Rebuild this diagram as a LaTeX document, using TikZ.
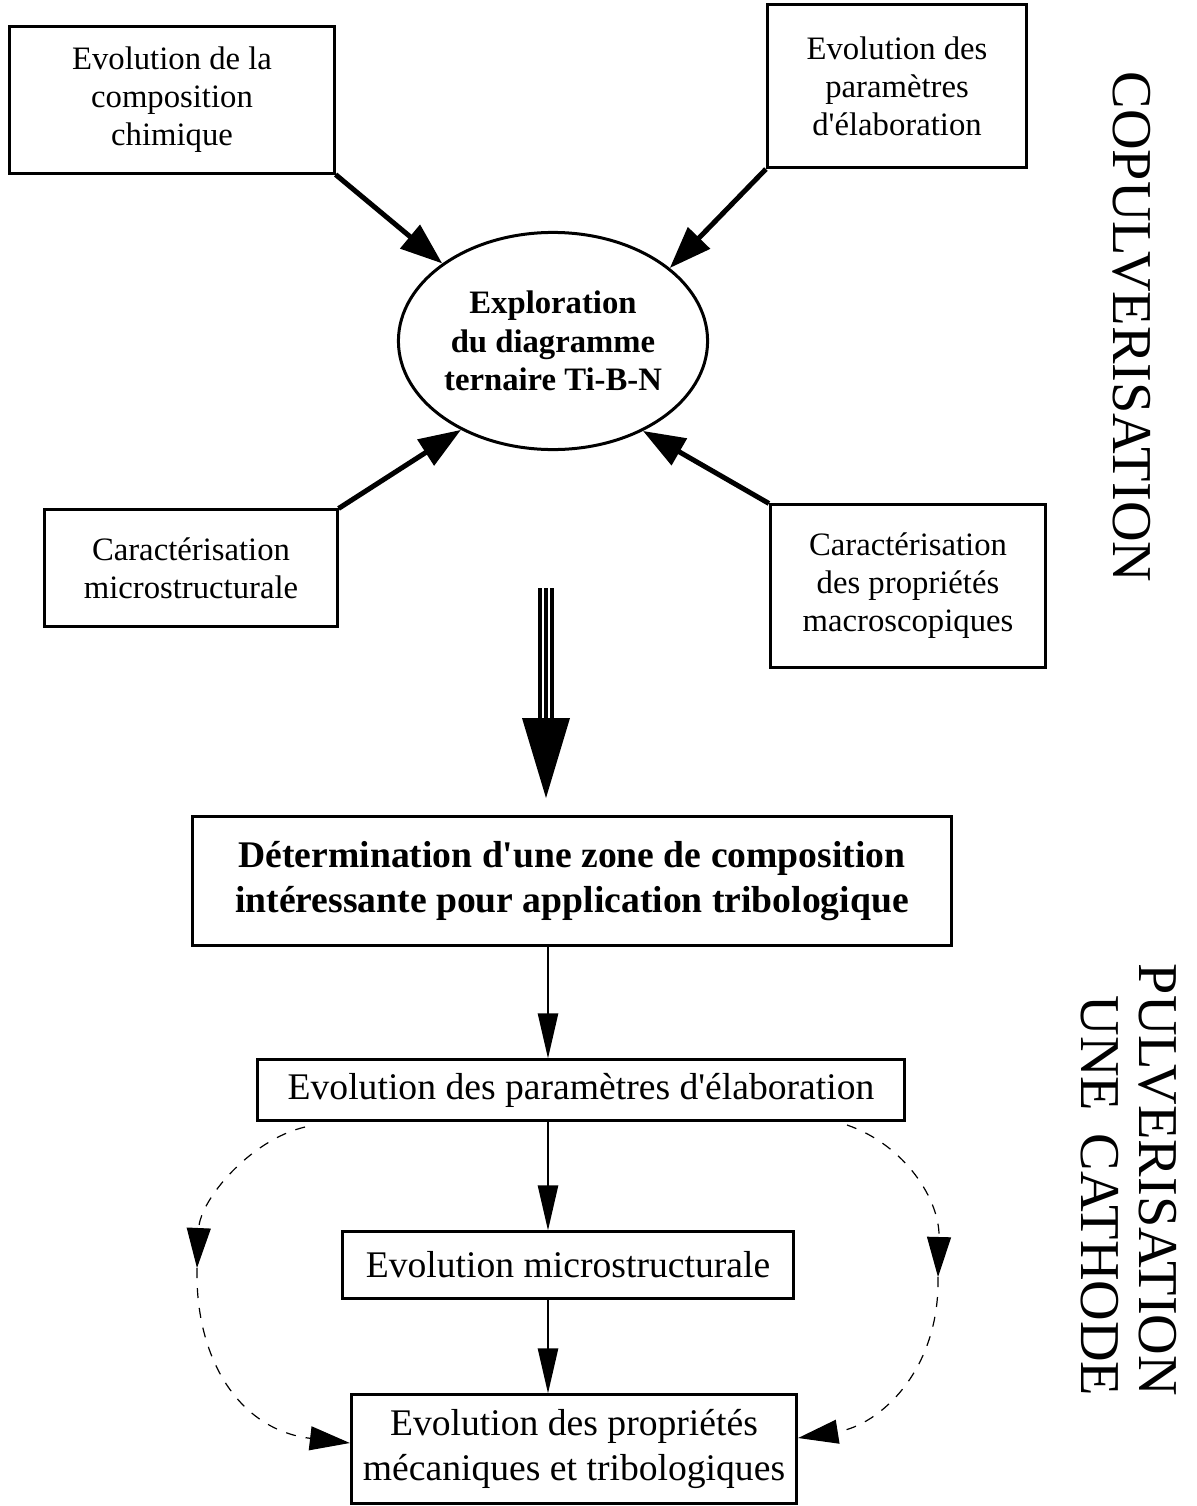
\documentclass[tikz,border=0pt]{standalone}
\usepackage{fontspec}
\setmainfont{Liberation Serif}
\usetikzlibrary{arrows.meta,shapes.geometric}

\tikzset{
  box/.style={draw, line width=0.03cm, align=center, inner sep=0pt},
  smalltext/.style={font=\fontsize{9.3}{10.8}\selectfont},
  bigtext/.style={font=\fontsize{10.7}{12.6}\selectfont},
  feed/.style={line width=0.05cm, -{Triangle[length=0.42cm,width=0.3cm]}},
  flow/.style={line width=0.025cm, -{Triangle[length=0.45cm,width=0.2cm]}},
  loopback/.style={line width=0.012cm, dash pattern=on 0.1cm off 0.1cm, -{Triangle[length=0.4cm,width=0.24cm]}},
  sidelabel/.style={rotate=-90, align=right, font=\fontsize{16}{16.5}\selectfont}
}

\begin{document}
\begin{tikzpicture}[x=0.01cm, y=-0.01cm]
    \useasboundingbox (0,0) rectangle (1197,1506);

    % Ternary diagram and its inputs
    \node[ellipse, draw, line width=0.03cm, align=center, inner sep=0pt,
          minimum width=3.09cm, minimum height=2.17cm,
          font=\fontsize{9.3}{11}\selectfont\bfseries] (explo) at (553,341)
          {Exploration\\du diagramme\\ternaire Ti-B-N};
    \node[box, smalltext, minimum width=3.24cm, minimum height=1.46cm] (chim) at (172,100)
          {Evolution de la\\composition\\chimique};
    \node[box, smalltext, minimum width=2.59cm, minimum height=1.63cm] (elab) at (897,86)
          {Evolution des\\paramètres\\d\textquotesingle élaboration};
    \node[box, smalltext, minimum width=2.92cm, minimum height=1.16cm] (carmicro) at (191,568)
          {Caractérisation\\microstructurale};
    \node[box, smalltext, minimum width=2.75cm, minimum height=1.62cm] (carmacro) at (908,586)
          {Caractérisation\\des propriétés\\macroscopiques};

    \draw[feed] (chim.south east) -- (explo.145);
    \draw[feed] (elab.south west) -- (explo.32);
    \draw[feed] (carmicro.north east) -- (explo.224);
    \draw[feed] (carmacro.north west) -- (explo.315);

    % Triple arrow
    \coordinate (bigtop) at (546,588);
    \coordinate (bigbase) at (546,718);
    \coordinate (bigtip) at (546,798);
    \foreach \dx in {-6,0,6}
        \draw[line width=0.035cm] ([xshift=\dx*0.01cm]bigtop) -- ([xshift=\dx*0.01cm]bigbase);
    \fill ([xshift=-0.24cm]bigbase) -- ([xshift=0.24cm]bigbase) -- (bigtip) -- cycle;

    % Single cathode sequence
    \node[box, bigtext, font=\fontsize{10.7}{12.6}\selectfont\bfseries,
          minimum width=7.59cm, minimum height=1.28cm] (zone) at (572,881)
          {Détermination d\textquotesingle une zone de composition\\intéressante pour application tribologique};
    \node[box, bigtext, minimum width=6.47cm, minimum height=0.60cm] (param) at (581,1090)
          {Evolution des paramètres d\textquotesingle élaboration};
    \node[box, bigtext, minimum width=4.51cm, minimum height=0.66cm] (micro) at (568,1265)
          {Evolution microstructurale};
    \node[box, bigtext, font=\fontsize{10.7}{13}\selectfont,
          minimum width=4.45cm, minimum height=1.08cm] (meca) at (574,1449)
          {Evolution des propriétés\\mécaniques et tribologiques};

    \coordinate (axis) at (548,0);
    \draw[flow] (zone.south -| axis) -- (param.north -| axis);
    \draw[flow] (param.south -| axis) -- (micro.north -| axis);
    \draw[flow] (micro.south -| axis) -- (meca.north -| axis);

    % Dashed feedback loops
    \coordinate (lstart) at (305,1127);
    \coordinate (lmid) at (197,1268);
    \coordinate (rstart) at (847,1125);
    \coordinate (rmid) at (938,1277);
    \draw[loopback] (lstart) .. controls (250,1140) and (200,1200) .. (lmid);
    \draw[loopback] (lmid) .. controls (195,1360) and (240,1430) .. ([yshift=0.06cm]meca.west);
    \draw[loopback] (rstart) .. controls (905,1145) and (940,1200) .. (rmid);
    \draw[loopback] (rmid) .. controls (940,1370) and (880,1425) .. ([yshift=0.11cm]meca.east);

    % Side labels
    \node[sidelabel] (copulv) at (1132,327) {COPULVERISATION};
    \node[sidelabel] (pulv) at (1129,1180) {PULVERISATION\\UNE\hspace{0.15em} CATHODE};
\end{tikzpicture}
\end{document}
